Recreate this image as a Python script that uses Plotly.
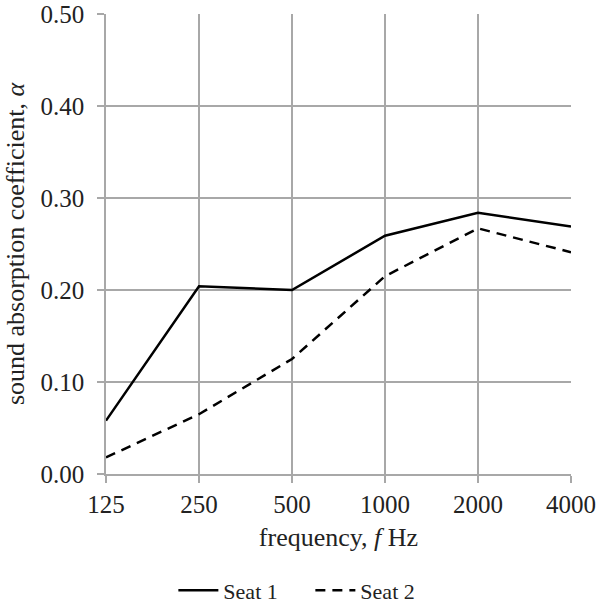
import plotly.graph_objects as go

freqs = ["125", "250", "500", "1000", "2000", "4000"]
seat1 = [0.058, 0.204, 0.200, 0.259, 0.284, 0.269]
seat2 = [0.018, 0.065, 0.125, 0.215, 0.267, 0.241]
y_ticks = [0.0, 0.1, 0.2, 0.3, 0.4, 0.5]
y_tick_labels = ["0.00", "0.10", "0.20", "0.30", "0.40", "0.50"]

FONT = "Liberation Serif, Times New Roman, serif"
GRID = "#a8a8a8"
TXT = "#222222"

fig = go.Figure()
fig.add_trace(go.Scatter(x=freqs, y=seat1, mode="lines", name="Seat 1",
                         line=dict(color="black", width=2.5)))
fig.add_trace(go.Scatter(x=freqs, y=seat2, mode="lines", name="Seat 2",
                         line=dict(color="black", width=2.5, dash="10px,7px")))

fig.update_layout(
    width=605, height=603,
    margin=dict(l=106, r=34, t=14, b=129),
    paper_bgcolor="white", plot_bgcolor="white",
    font=dict(family=FONT, size=22, color=TXT),
    showlegend=True,
    legend=dict(orientation="h", xref="container", yref="container",
                x=0.513, xanchor="center", y=0.021, yanchor="middle",
                font=dict(family=FONT, size=22, color=TXT), traceorder="normal",
                itemwidth=40, entrywidth=82, entrywidthmode="pixels"),
    xaxis=dict(type="category", range=[0, 5], showgrid=True, gridcolor=GRID, gridwidth=1.5,
               showline=True, linecolor=GRID, linewidth=1.5,
               ticks="outside", ticklen=7, tickcolor=GRID, tickwidth=1.5,
               tickfont=dict(family=FONT, size=25, color=TXT), automargin=False,
               ticklabeloverflow="allow",
               title=dict(text="frequency, <i>f</i> Hz", standoff=11),
               zeroline=False),
    yaxis=dict(range=[0, 0.5], tickvals=y_ticks, ticktext=y_tick_labels,
               showgrid=True, gridcolor=GRID, gridwidth=1.5,
               showline=True, linecolor=GRID, linewidth=1.5,
               ticks="outside", ticklen=7, tickcolor=GRID, tickwidth=1.5,
               ticklabelstandoff=8, ticklabeloverflow="allow",
               tickfont=dict(family=FONT, size=25, color=TXT), automargin=False,
               title=dict(text="sound absorption coefficient, <i>α</i>", standoff=8),
               zeroline=False),
)

fig.write_html("out.html",
               config={"displayModeBar": False},
               post_script="document.body.style.margin='0';document.body.style.overflow='hidden';")
